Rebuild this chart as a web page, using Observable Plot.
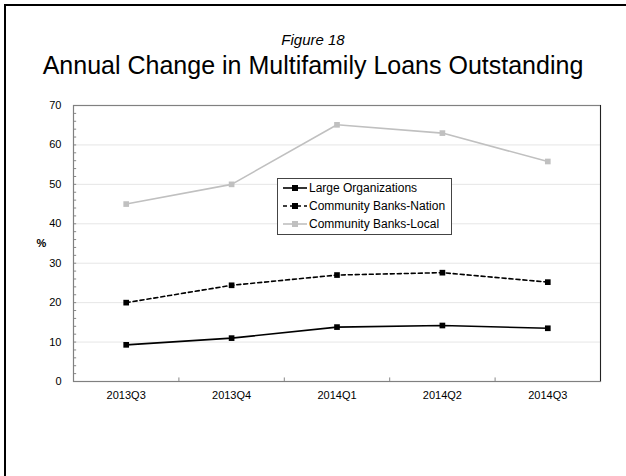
<!DOCTYPE html>
<html>
<head>
<meta charset="utf-8">
<script src="https://cdn.jsdelivr.net/npm/d3@7"></script>
<script src="https://cdn.jsdelivr.net/npm/@observablehq/plot@0.6"></script>
<style>
  html, body { margin: 0; padding: 0; background: #fff; }
  body { width: 626px; height: 476px; position: relative; overflow: hidden; font-family: "Liberation Sans", Arial, sans-serif; }
  #frameL { position: absolute; left: 4px; top: 4px; width: 2px; height: 480px; background: #000; z-index: 5; }
  #frameT { position: absolute; left: 4px; top: 4px; width: 630px; height: 2px; background: #000; z-index: 5; }
  #fig { position: absolute; left: 0; width: 626px; top: 31px; text-align: center; font-style: italic; font-size: 15px; color: #000; }
  #title { position: absolute; left: 0; width: 626px; top: 51px; text-align: center; font-size: 25px; color: #000; }
  #chart { position: absolute; left: 0; top: 90px; }
  #legend { position: absolute; left: 277px; top: 178px; width: 173px; height: 55px; border: 1px solid #444; background: #fff; font-size: 12px; }
  .row { position: absolute; left: 5px; height: 14px; display: flex; align-items: center; white-space: nowrap; }
  .row svg { margin-right: 2px; }
</style>
</head>
<body>
<div id="frameL"></div><div id="frameT"></div>
<div id="fig">Figure 18</div>
<div id="title">Annual Change in Multifamily Loans Outstanding</div>
<div id="chart"></div>
<div id="legend"></div>
<script>
const quarters = ["2013Q3", "2013Q4", "2014Q1", "2014Q2", "2014Q3"];
const seriesNames = ["Large Organizations", "Community Banks-Nation", "Community Banks-Local"];
const largeOrgs = [9.3, 11.0, 13.8, 14.2, 13.5];
const communityNation = [20.0, 24.4, 27.0, 27.6, 25.2];
const communityLocal = [45.0, 50.0, 65.1, 63.0, 55.8];
const yTicks = [0, 10, 20, 30, 40, 50, 60, 70];

const styles = {
  "Large Organizations": {stroke: "#000", dash: null, fill: "#000"},
  "Community Banks-Nation": {stroke: "#000", dash: "4,3", fill: "#000"},
  "Community Banks-Local": {stroke: "#c0c0c0", dash: null, fill: "#c0c0c0"}
};
const values = [largeOrgs, communityNation, communityLocal];
const data = seriesNames.map((s, k) => values[k].map((v, i) => ({series: s, q: i, v})));

const minor = d3.range(0, 70.01, 2);
const bounds = [0.5, 1.5, 2.5, 3.5];

const marks = [
  Plot.ruleY(yTicks.filter(d => d > 0 && d < 70), {stroke: "#e6e6e6", strokeWidth: 1}),
  Plot.ruleY(minor, {x1: -0.5, x2: -0.47, stroke: "#888", strokeWidth: 1}),
  Plot.ruleX(bounds, {y1: 0, y2: 0.9, stroke: "#888", strokeWidth: 1}),
  Plot.frame({stroke: "#808080", strokeWidth: 1.2}),
  Plot.ruleX([4.5], {stroke: "#222", strokeWidth: 1})
];
data.forEach((d, k) => {
  const st = styles[seriesNames[k]];
  marks.push(Plot.line(d, {x: "q", y: "v", stroke: st.stroke, strokeWidth: 1.6, strokeDasharray: st.dash}));
  marks.push(Plot.dot(d, {x: "q", y: "v", symbol: "square", r: 3.2, fill: st.fill, stroke: "none"}));
});
marks.push(Plot.axisY({ticks: yTicks, tickSize: 0, tickPadding: 12, fontSize: 11, label: null}));
marks.push(Plot.axisX({ticks: [0, 1, 2, 3, 4], tickFormat: i => quarters[i], tickSize: 0, tickPadding: 10, fontSize: 11, label: null}));
marks.push(Plot.text(["%"], {frameAnchor: "left", dx: -37, fontSize: 11, fontWeight: "bold"}));

const chart = Plot.plot({
  width: 626,
  height: 325,
  marginLeft: 73,
  marginRight: 26,
  marginTop: 15,
  marginBottom: 34,
  style: {fontFamily: "'Liberation Sans', Arial, sans-serif", fontSize: "11px", color: "#000", background: "transparent"},
  x: {type: "linear", domain: [-0.5, 4.5]},
  y: {domain: [0, 70]},
  marks
});
document.getElementById("chart").appendChild(chart);

// Legend
const legend = document.getElementById("legend");
seriesNames.forEach((s, k) => {
  const st = styles[s];
  const row = document.createElement("div");
  row.className = "row";
  row.style.top = (2 + k * 18) + "px";
  const sw = d3.create("svg").attr("width", 24).attr("height", 10);
  sw.append("line").attr("x1", 0).attr("x2", 24).attr("y1", 5).attr("y2", 5)
    .attr("stroke", st.stroke).attr("stroke-width", 1.6).attr("stroke-dasharray", st.dash);
  sw.append("rect").attr("x", 9).attr("y", 2).attr("width", 6).attr("height", 6).attr("fill", st.fill);
  row.appendChild(sw.node());
  const t = document.createElement("span");
  t.textContent = s;
  row.appendChild(t);
  legend.appendChild(row);
});
</script>
</body>
</html>
